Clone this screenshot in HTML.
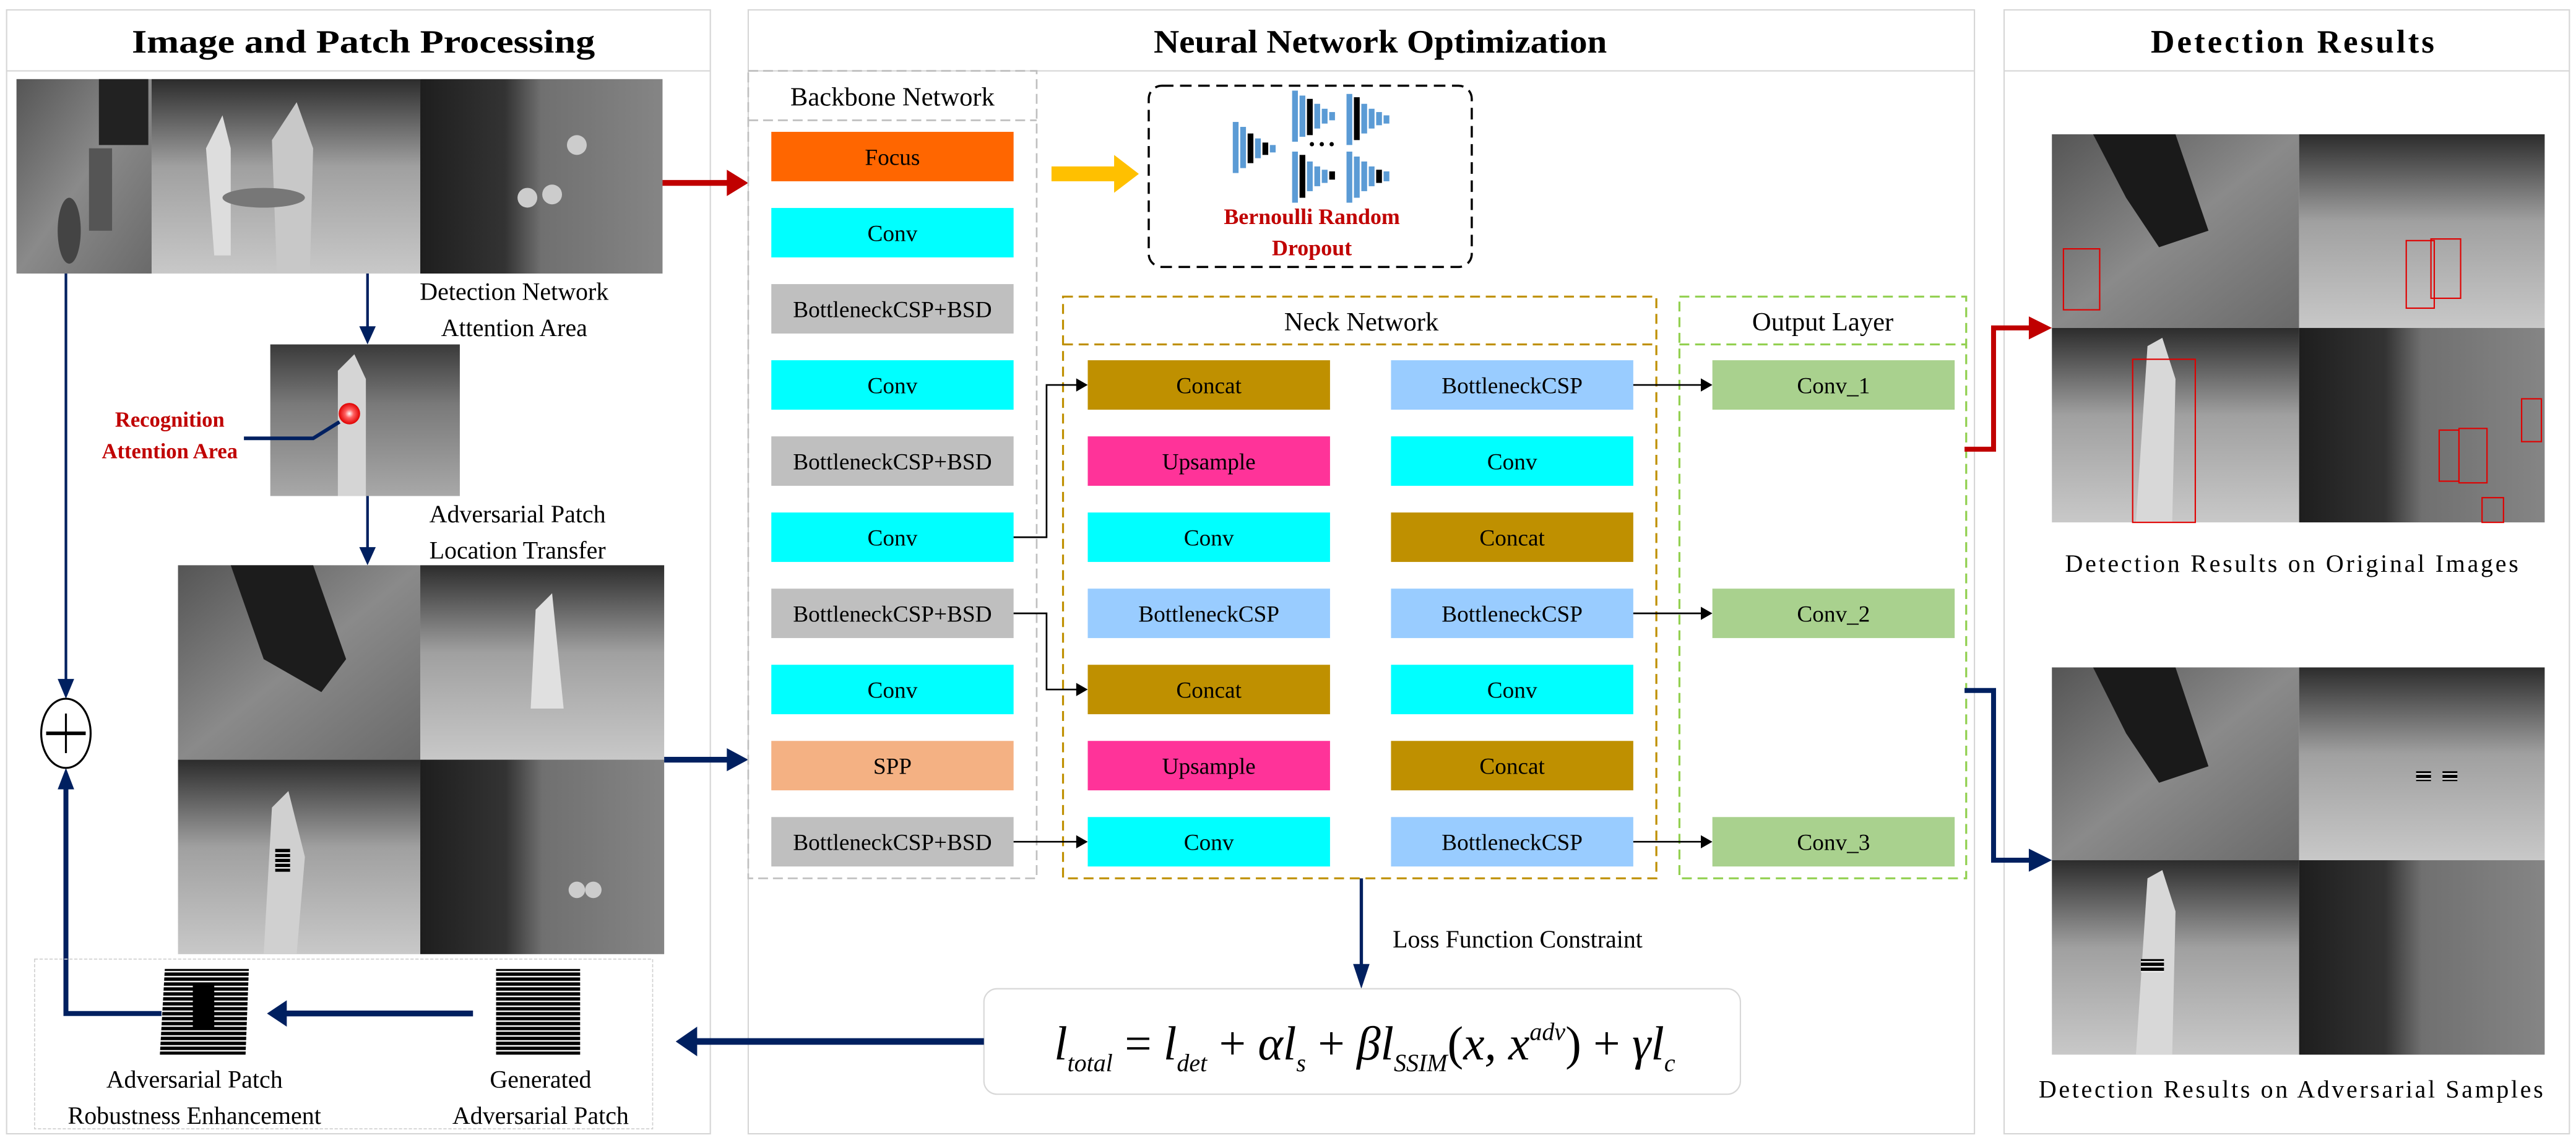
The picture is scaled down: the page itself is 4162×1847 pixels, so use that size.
<!DOCTYPE html>
<html><head><meta charset="utf-8"><style>html,body{margin:0;padding:0;background:#fff}svg{display:block}svg text{font-family:"Liberation Serif","DejaVu Serif",serif}</style></head><body>
<svg width="4162" height="1847" viewBox="0 0 1563 693.6" preserveAspectRatio="none" xmlns="http://www.w3.org/2000/svg">
<defs>
<linearGradient id="g1" x1="0" y1="0" x2="0" y2="1"><stop offset="0" stop-color="#3a3a3a"/><stop offset="0.4" stop-color="#7a7a7a"/><stop offset="1" stop-color="#a8a8a8"/></linearGradient>
<linearGradient id="g2" x1="0" y1="0" x2="1" y2="1"><stop offset="0" stop-color="#555"/><stop offset="0.5" stop-color="#8a8a8a"/><stop offset="1" stop-color="#6a6a6a"/></linearGradient>
<linearGradient id="g3" x1="0" y1="0" x2="1" y2="0"><stop offset="0" stop-color="#1e1e1e"/><stop offset="0.35" stop-color="#333"/><stop offset="0.5" stop-color="#707070"/><stop offset="1" stop-color="#858585"/></linearGradient>
<linearGradient id="g4" x1="0" y1="0" x2="0" y2="1"><stop offset="0" stop-color="#2c2c2c"/><stop offset="0.45" stop-color="#a0a0a0"/><stop offset="1" stop-color="#c8c8c8"/></linearGradient>
<pattern id="stripe" width="4" height="3" patternUnits="userSpaceOnUse"><rect width="4" height="3" fill="#000"/><rect y="1.2" width="4" height="0.9" fill="#fff"/></pattern>
<radialGradient id="rb"><stop offset="0" stop-color="#fff"/><stop offset="0.4" stop-color="#ff6060"/><stop offset="1" stop-color="#e00000"/></radialGradient>
</defs>
<rect width="1563" height="693.6" fill="#fff"/>

<g fill="none" stroke="#d6d6d6" stroke-width="0.8">
<rect x="4" y="6" width="427" height="682"/><line x1="4" y1="43" x2="431" y2="43"/>
<rect x="454" y="6" width="744" height="682"/><line x1="454" y1="43" x2="1198" y2="43"/>
<rect x="1216" y="6" width="343" height="682"/><line x1="1216" y1="43" x2="1559" y2="43"/>
</g>
<g font-weight="bold" font-size="20" fill="#000">
<text x="80" y="32" textLength="281" lengthAdjust="spacingAndGlyphs">Image and Patch Processing</text>
<text x="700" y="32" textLength="275" lengthAdjust="spacingAndGlyphs">Neural Network Optimization</text>
<text x="1305" y="32" textLength="172" lengthAdjust="spacing">Detection Results</text>
</g>

<rect x="10" y="48" width="82" height="118" fill="url(#g2)"/>
<rect x="92" y="48" width="163" height="118" fill="url(#g4)"/>
<rect x="255" y="48" width="147" height="118" fill="url(#g3)"/>
<ellipse cx="42" cy="140" rx="7" ry="20" fill="#444"/><rect x="54" y="90" width="14" height="50" fill="#555"/>
<rect x="60" y="48" width="30" height="40" fill="#222"/>
<path d="M125 90 L135 70 L140 90 L140 155 L130 155Z" fill="#ddd"/>
<path d="M165 85 L180 62 L190 90 L188 166 L168 166Z" fill="#c8c8c8"/>
<circle cx="320" cy="120" r="6" fill="#ccc"/><circle cx="335" cy="118" r="6" fill="#ccc"/><circle cx="350" cy="88" r="6" fill="#ccc"/>
<ellipse cx="160" cy="120" rx="25" ry="6" fill="#777"/>

<g stroke="#002060" fill="#002060">
<line x1="223" y1="166" x2="223" y2="200" stroke-width="1.6"/><path d="M218 198 L228 198 L223 209Z" stroke="none"/>
<line x1="223" y1="301" x2="223" y2="334" stroke-width="1.6"/><path d="M218 332 L228 332 L223 343Z" stroke="none"/>
<line x1="40" y1="166" x2="40" y2="414" stroke-width="1.6"/><path d="M35 412 L45 412 L40 424Z" stroke="none"/>
<polyline points="98,615 40,615 40,477" fill="none" stroke-width="3"/><path d="M35 479 L45 479 L40 466Z" stroke="none"/>
</g>
<ellipse cx="40" cy="445" rx="15" ry="21" fill="#fff" stroke="#000" stroke-width="1.2"/>
<line x1="28" y1="445" x2="52" y2="445" stroke="#000" stroke-width="2.2"/><line x1="40" y1="433" x2="40" y2="457" stroke="#000" stroke-width="1.2"/>

<text x="312" y="182" font-size="15" text-anchor="middle">Detection Network</text>
<text x="312" y="204" font-size="15" text-anchor="middle">Attention Area</text>
<text x="314" y="317" font-size="15" text-anchor="middle">Adversarial Patch</text>
<text x="314" y="339" font-size="15" text-anchor="middle">Location Transfer</text>

<rect x="164" y="209" width="115" height="92" fill="url(#g1)"/>
<path d="M205 225 L215 215 L222 230 L222 301 L205 301Z" fill="#d5d5d5"/>
<circle cx="212" cy="251" r="6.5" fill="url(#rb)"/>
<polyline points="148,266 190,266 206,256" fill="none" stroke="#002060" stroke-width="2.2"/>
<g fill="#c00000" font-weight="bold" font-size="13" text-anchor="middle">
<text x="103" y="259">Recognition</text><text x="103" y="278">Attention Area</text></g>

<rect x="108" y="343" width="147" height="118" fill="url(#g2)"/>
<rect x="255" y="343" width="148" height="118" fill="url(#g4)"/>
<rect x="108" y="461" width="147" height="118" fill="url(#g4)"/>
<rect x="255" y="461" width="148" height="118" fill="url(#g3)"/>
<path d="M140 343 L190 343 L210 400 L195 420 L160 400Z" fill="#1c1c1c"/>
<path d="M325 370 L335 360 L342 430 L322 430Z" fill="#e0e0e0"/>
<path d="M165 490 L175 480 L185 520 L180 579 L160 579Z" fill="#d0d0d0"/>
<rect x="167" y="515" width="9" height="14" fill="url(#stripe)"/>
<circle cx="350" cy="540" r="5" fill="#ccc"/><circle cx="360" cy="540" r="5" fill="#ccc"/>

<line x1="403" y1="461" x2="443" y2="461" stroke="#002060" stroke-width="3.5"/><path d="M441 454 L454 461 L441 468Z" fill="#002060"/>
<line x1="402" y1="111" x2="443" y2="111" stroke="#c00000" stroke-width="3.5"/><path d="M441 103 L454 111 L441 119Z" fill="#c00000"/>

<rect x="21" y="582" width="375" height="103" fill="none" stroke="#cfcfcf" stroke-width="0.6" stroke-dasharray="2 1"/>
<path d="M100 588 L151 588 L149 640 L97 640Z" fill="url(#stripe)"/>
<rect x="117" y="598" width="13" height="26" fill="#000"/>
<rect x="301" y="588" width="51" height="52" fill="url(#stripe)"/>
<line x1="287" y1="615" x2="172" y2="615" stroke="#002060" stroke-width="3.5"/><path d="M174 607 L162 615 L174 623Z" fill="#002060"/>
<g font-size="15" text-anchor="middle">
<text x="118" y="660">Adversarial Patch</text><text x="118" y="682">Robustness Enhancement</text>
<text x="328" y="660">Generated</text><text x="328" y="682">Adversarial Patch</text></g>

<rect x="454" y="43" width="175" height="490" fill="none" stroke="#bfbfbf" stroke-width="1" stroke-dasharray="6 3"/>
<line x1="454" y1="73" x2="629" y2="73" stroke="#bfbfbf" stroke-width="1" stroke-dasharray="6 3"/>
<text x="541.5" y="64" font-size="16" text-anchor="middle">Backbone Network</text>
<g font-size="14" text-anchor="middle">
<rect x="468" y="80" width="147" height="30" fill="#ff6600"/><text x="541.5" y="100">Focus</text>
<rect x="468" y="126.2" width="147" height="30" fill="#00ffff"/><text x="541.5" y="146.2">Conv</text>
<rect x="468" y="172.4" width="147" height="30" fill="#bfbfbf"/><text x="541.5" y="192.4">BottleneckCSP+BSD</text>
<rect x="468" y="218.6" width="147" height="30" fill="#00ffff"/><text x="541.5" y="238.6">Conv</text>
<rect x="468" y="264.8" width="147" height="30" fill="#bfbfbf"/><text x="541.5" y="284.8">BottleneckCSP+BSD</text>
<rect x="468" y="311" width="147" height="30" fill="#00ffff"/><text x="541.5" y="331">Conv</text>
<rect x="468" y="357.2" width="147" height="30" fill="#bfbfbf"/><text x="541.5" y="377.2">BottleneckCSP+BSD</text>
<rect x="468" y="403.4" width="147" height="30" fill="#00ffff"/><text x="541.5" y="423.4">Conv</text>
<rect x="468" y="449.6" width="147" height="30" fill="#f4b183"/><text x="541.5" y="469.6">SPP</text>
<rect x="468" y="495.8" width="147" height="30" fill="#bfbfbf"/><text x="541.5" y="515.8">BottleneckCSP+BSD</text>
</g>

<rect x="638" y="101" width="40" height="9" fill="#ffc000"/><path d="M676 94 L691 105.5 L676 117Z" fill="#ffc000"/>
<rect x="697" y="52" width="196" height="110" rx="8" fill="none" stroke="#000" stroke-width="1.3" stroke-dasharray="7 4"/>
<g>
<rect x="748" y="74" width="3.5" height="31" fill="#5b9bd5"/><rect x="752.5" y="77" width="3.5" height="25" fill="#5b9bd5"/><rect x="757" y="81" width="3.5" height="18" fill="#000"/><rect x="761.5" y="84" width="3.5" height="12" fill="#5b9bd5"/><rect x="766" y="86.5" width="3.5" height="7.5" fill="#000"/><rect x="770.5" y="88" width="3.5" height="4.5" fill="#5b9bd5"/>
</g>
<g fill="#5b9bd5">
<rect x="784" y="55" width="3.5" height="31"/><rect x="788.5" y="58" width="3.5" height="25"/><rect x="793" y="60" width="3.5" height="22" fill="#000"/><rect x="797.5" y="63" width="3.5" height="15"/><rect x="802" y="66" width="3.5" height="9"/><rect x="806.5" y="68" width="3.5" height="5"/>
<rect x="817" y="57" width="3.5" height="31"/><rect x="821.5" y="59" width="3.5" height="26" fill="#000"/><rect x="826" y="63" width="3.5" height="18"/><rect x="830.5" y="66" width="3.5" height="12"/><rect x="835" y="68" width="3.5" height="8"/><rect x="839.5" y="70" width="3.5" height="5"/>
<rect x="784" y="92" width="3.5" height="31"/><rect x="788.5" y="94" width="3.5" height="26" fill="#000"/><rect x="793" y="98" width="3.5" height="18"/><rect x="797.5" y="101" width="3.5" height="12"/><rect x="802" y="103" width="3.5" height="8"/><rect x="806.5" y="104" width="3.5" height="5" fill="#000"/>
<rect x="817" y="92" width="3.5" height="31"/><rect x="821.5" y="95" width="3.5" height="25"/><rect x="826" y="98" width="3.5" height="18"/><rect x="830.5" y="101" width="3.5" height="12"/><rect x="835" y="103" width="3.5" height="8" fill="#000"/><rect x="839.5" y="104" width="3.5" height="6"/>
</g>
<g fill="#000"><circle cx="796" cy="87.5" r="1.3"/><circle cx="802" cy="87.5" r="1.3"/><circle cx="808" cy="87.5" r="1.3"/></g>
<g fill="#c00000" font-weight="bold" font-size="13.5" text-anchor="middle"><text x="796" y="136">Bernoulli Random</text><text x="796" y="155">Dropout</text></g>

<rect x="645" y="180" width="360" height="353" fill="none" stroke="#bf9000" stroke-width="1.2" stroke-dasharray="6 3.5"/>
<line x1="645" y1="209" x2="1005" y2="209" stroke="#bf9000" stroke-width="1.2" stroke-dasharray="6 3.5"/>
<text x="826" y="200.5" font-size="16" text-anchor="middle">Neck Network</text>
<rect x="1019" y="180" width="174" height="353" fill="none" stroke="#92d050" stroke-width="1.2" stroke-dasharray="6 3.5"/>
<line x1="1019" y1="209" x2="1193" y2="209" stroke="#92d050" stroke-width="1.2" stroke-dasharray="6 3.5"/>
<text x="1106" y="200.5" font-size="16" text-anchor="middle">Output Layer</text>
<g font-size="14" text-anchor="middle">
<rect x="660" y="218.6" width="147" height="30" fill="#bf9000"/><text x="733.5" y="238.6">Concat</text>
<rect x="660" y="264.8" width="147" height="30" fill="#ff3399"/><text x="733.5" y="284.8">Upsample</text>
<rect x="660" y="311" width="147" height="30" fill="#00ffff"/><text x="733.5" y="331">Conv</text>
<rect x="660" y="357.2" width="147" height="30" fill="#99ccff"/><text x="733.5" y="377.2">BottleneckCSP</text>
<rect x="660" y="403.4" width="147" height="30" fill="#bf9000"/><text x="733.5" y="423.4">Concat</text>
<rect x="660" y="449.6" width="147" height="30" fill="#ff3399"/><text x="733.5" y="469.6">Upsample</text>
<rect x="660" y="495.8" width="147" height="30" fill="#00ffff"/><text x="733.5" y="515.8">Conv</text>
<rect x="844" y="218.6" width="147" height="30" fill="#99ccff"/><text x="917.5" y="238.6">BottleneckCSP</text>
<rect x="844" y="264.8" width="147" height="30" fill="#00ffff"/><text x="917.5" y="284.8">Conv</text>
<rect x="844" y="311" width="147" height="30" fill="#bf9000"/><text x="917.5" y="331">Concat</text>
<rect x="844" y="357.2" width="147" height="30" fill="#99ccff"/><text x="917.5" y="377.2">BottleneckCSP</text>
<rect x="844" y="403.4" width="147" height="30" fill="#00ffff"/><text x="917.5" y="423.4">Conv</text>
<rect x="844" y="449.6" width="147" height="30" fill="#bf9000"/><text x="917.5" y="469.6">Concat</text>
<rect x="844" y="495.8" width="147" height="30" fill="#99ccff"/><text x="917.5" y="515.8">BottleneckCSP</text>
<rect x="1039" y="218.6" width="147" height="30" fill="#a9d18e"/><text x="1112.5" y="238.6">Conv_1</text>
<rect x="1039" y="357.2" width="147" height="30" fill="#a9d18e"/><text x="1112.5" y="377.2">Conv_2</text>
<rect x="1039" y="495.8" width="147" height="30" fill="#a9d18e"/><text x="1112.5" y="515.8">Conv_3</text>
</g>
<g stroke="#000" stroke-width="1" fill="none">
<polyline points="615,326 635,326 635,233.6 654,233.6"/>
<polyline points="615,372.2 635,372.2 635,418.4 654,418.4"/>
<line x1="615" y1="510.8" x2="654" y2="510.8"/>
<line x1="991" y1="233.6" x2="1033" y2="233.6"/>
<line x1="991" y1="372.2" x2="1033" y2="372.2"/>
<line x1="991" y1="510.8" x2="1033" y2="510.8"/>
</g>
<g fill="#000">
<path d="M653 229.6 L660 233.6 L653 237.6Z"/><path d="M653 414.4 L660 418.4 L653 422.4Z"/><path d="M653 506.8 L660 510.8 L653 514.8Z"/>
<path d="M1032 229.6 L1039 233.6 L1032 237.6Z"/><path d="M1032 368.2 L1039 372.2 L1032 376.2Z"/><path d="M1032 506.8 L1039 510.8 L1032 514.8Z"/>
</g>

<line x1="826" y1="533" x2="826" y2="588" stroke="#002060" stroke-width="2"/><path d="M821 585 L831 585 L826 600Z" fill="#002060"/>
<text x="845" y="575" font-size="15">Loss Function Constraint</text>
<rect x="597" y="600" width="459" height="64" rx="8" fill="none" stroke="#d8d8d8" stroke-width="0.8"/>
<text x="828" y="643" font-size="29" font-style="italic" text-anchor="middle">l<tspan font-size="15" dy="7">total</tspan><tspan dy="-7" font-style="normal"> = </tspan>l<tspan font-size="15" dy="7">det</tspan><tspan dy="-7" font-style="normal"> + </tspan>αl<tspan font-size="15" dy="7">s</tspan><tspan dy="-7" font-style="normal"> + </tspan>βl<tspan font-size="15" dy="7">SSIM</tspan><tspan dy="-7" font-style="normal">(</tspan>x, x<tspan font-size="15" dy="-12">adv</tspan><tspan dy="12" font-style="normal">) + </tspan>γl<tspan font-size="15" dy="7">c</tspan></text>
<line x1="597" y1="632" x2="421" y2="632" stroke="#002060" stroke-width="4"/><path d="M423 623 L410 632 L423 641Z" fill="#002060"/>

<rect x="1245" y="81.5" width="150" height="117.5" fill="url(#g2)"/>
<rect x="1395" y="81.5" width="149" height="117.5" fill="url(#g4)"/>
<rect x="1245" y="199" width="150" height="118" fill="url(#g4)"/>
<rect x="1395" y="199" width="149" height="118" fill="url(#g3)"/>
<path d="M1270 81.5 L1320 81.5 L1340 140 L1310 150 L1290 120Z" fill="#1a1a1a"/>
<path d="M1303 210 L1312 205 L1320 230 L1318 317 L1296 317Z" fill="#d8d8d8"/>
<g fill="none" stroke="#e00000" stroke-width="0.8">
<rect x="1252" y="151" width="22" height="37"/><rect x="1460" y="146" width="17" height="41"/><rect x="1475" y="145" width="18" height="36"/>
<rect x="1294" y="218" width="38" height="99"/><rect x="1480" y="261" width="12" height="31"/><rect x="1492" y="260" width="17" height="33"/><rect x="1530" y="242" width="12" height="26"/><rect x="1506" y="302" width="13" height="15"/>
</g>
<text x="1253" y="347" font-size="15" textLength="275" lengthAdjust="spacing">Detection Results on Original Images</text>
<rect x="1245" y="405" width="150" height="117" fill="url(#g2)"/>
<rect x="1395" y="405" width="149" height="117" fill="url(#g4)"/>
<rect x="1245" y="522" width="150" height="118" fill="url(#g4)"/>
<rect x="1395" y="522" width="149" height="118" fill="url(#g3)"/>
<path d="M1270 405 L1320 405 L1340 465 L1310 475 L1290 445Z" fill="#1a1a1a"/>
<path d="M1303 533 L1312 528 L1320 553 L1318 640 L1296 640Z" fill="#d8d8d8"/>
<rect x="1299" y="582" width="14" height="8" fill="url(#stripe)"/><rect x="1466" y="468" width="9" height="6" fill="url(#stripe)"/><rect x="1482" y="468" width="9" height="6" fill="url(#stripe)"/>
<text x="1237" y="666" font-size="15" textLength="306" lengthAdjust="spacing">Detection Results on Adversarial Samples</text>
<polyline points="1192,272.6 1209.6,272.6 1209.6,199 1233,199" fill="none" stroke="#c00000" stroke-width="3"/>
<path d="M1231 192 L1245 199 L1231 206Z" fill="#c00000"/>
<polyline points="1192,419 1209.6,419 1209.6,522 1233,522" fill="none" stroke="#002060" stroke-width="3"/>
<path d="M1231 515 L1245 522 L1231 529Z" fill="#002060"/>
</svg>
</body></html>
